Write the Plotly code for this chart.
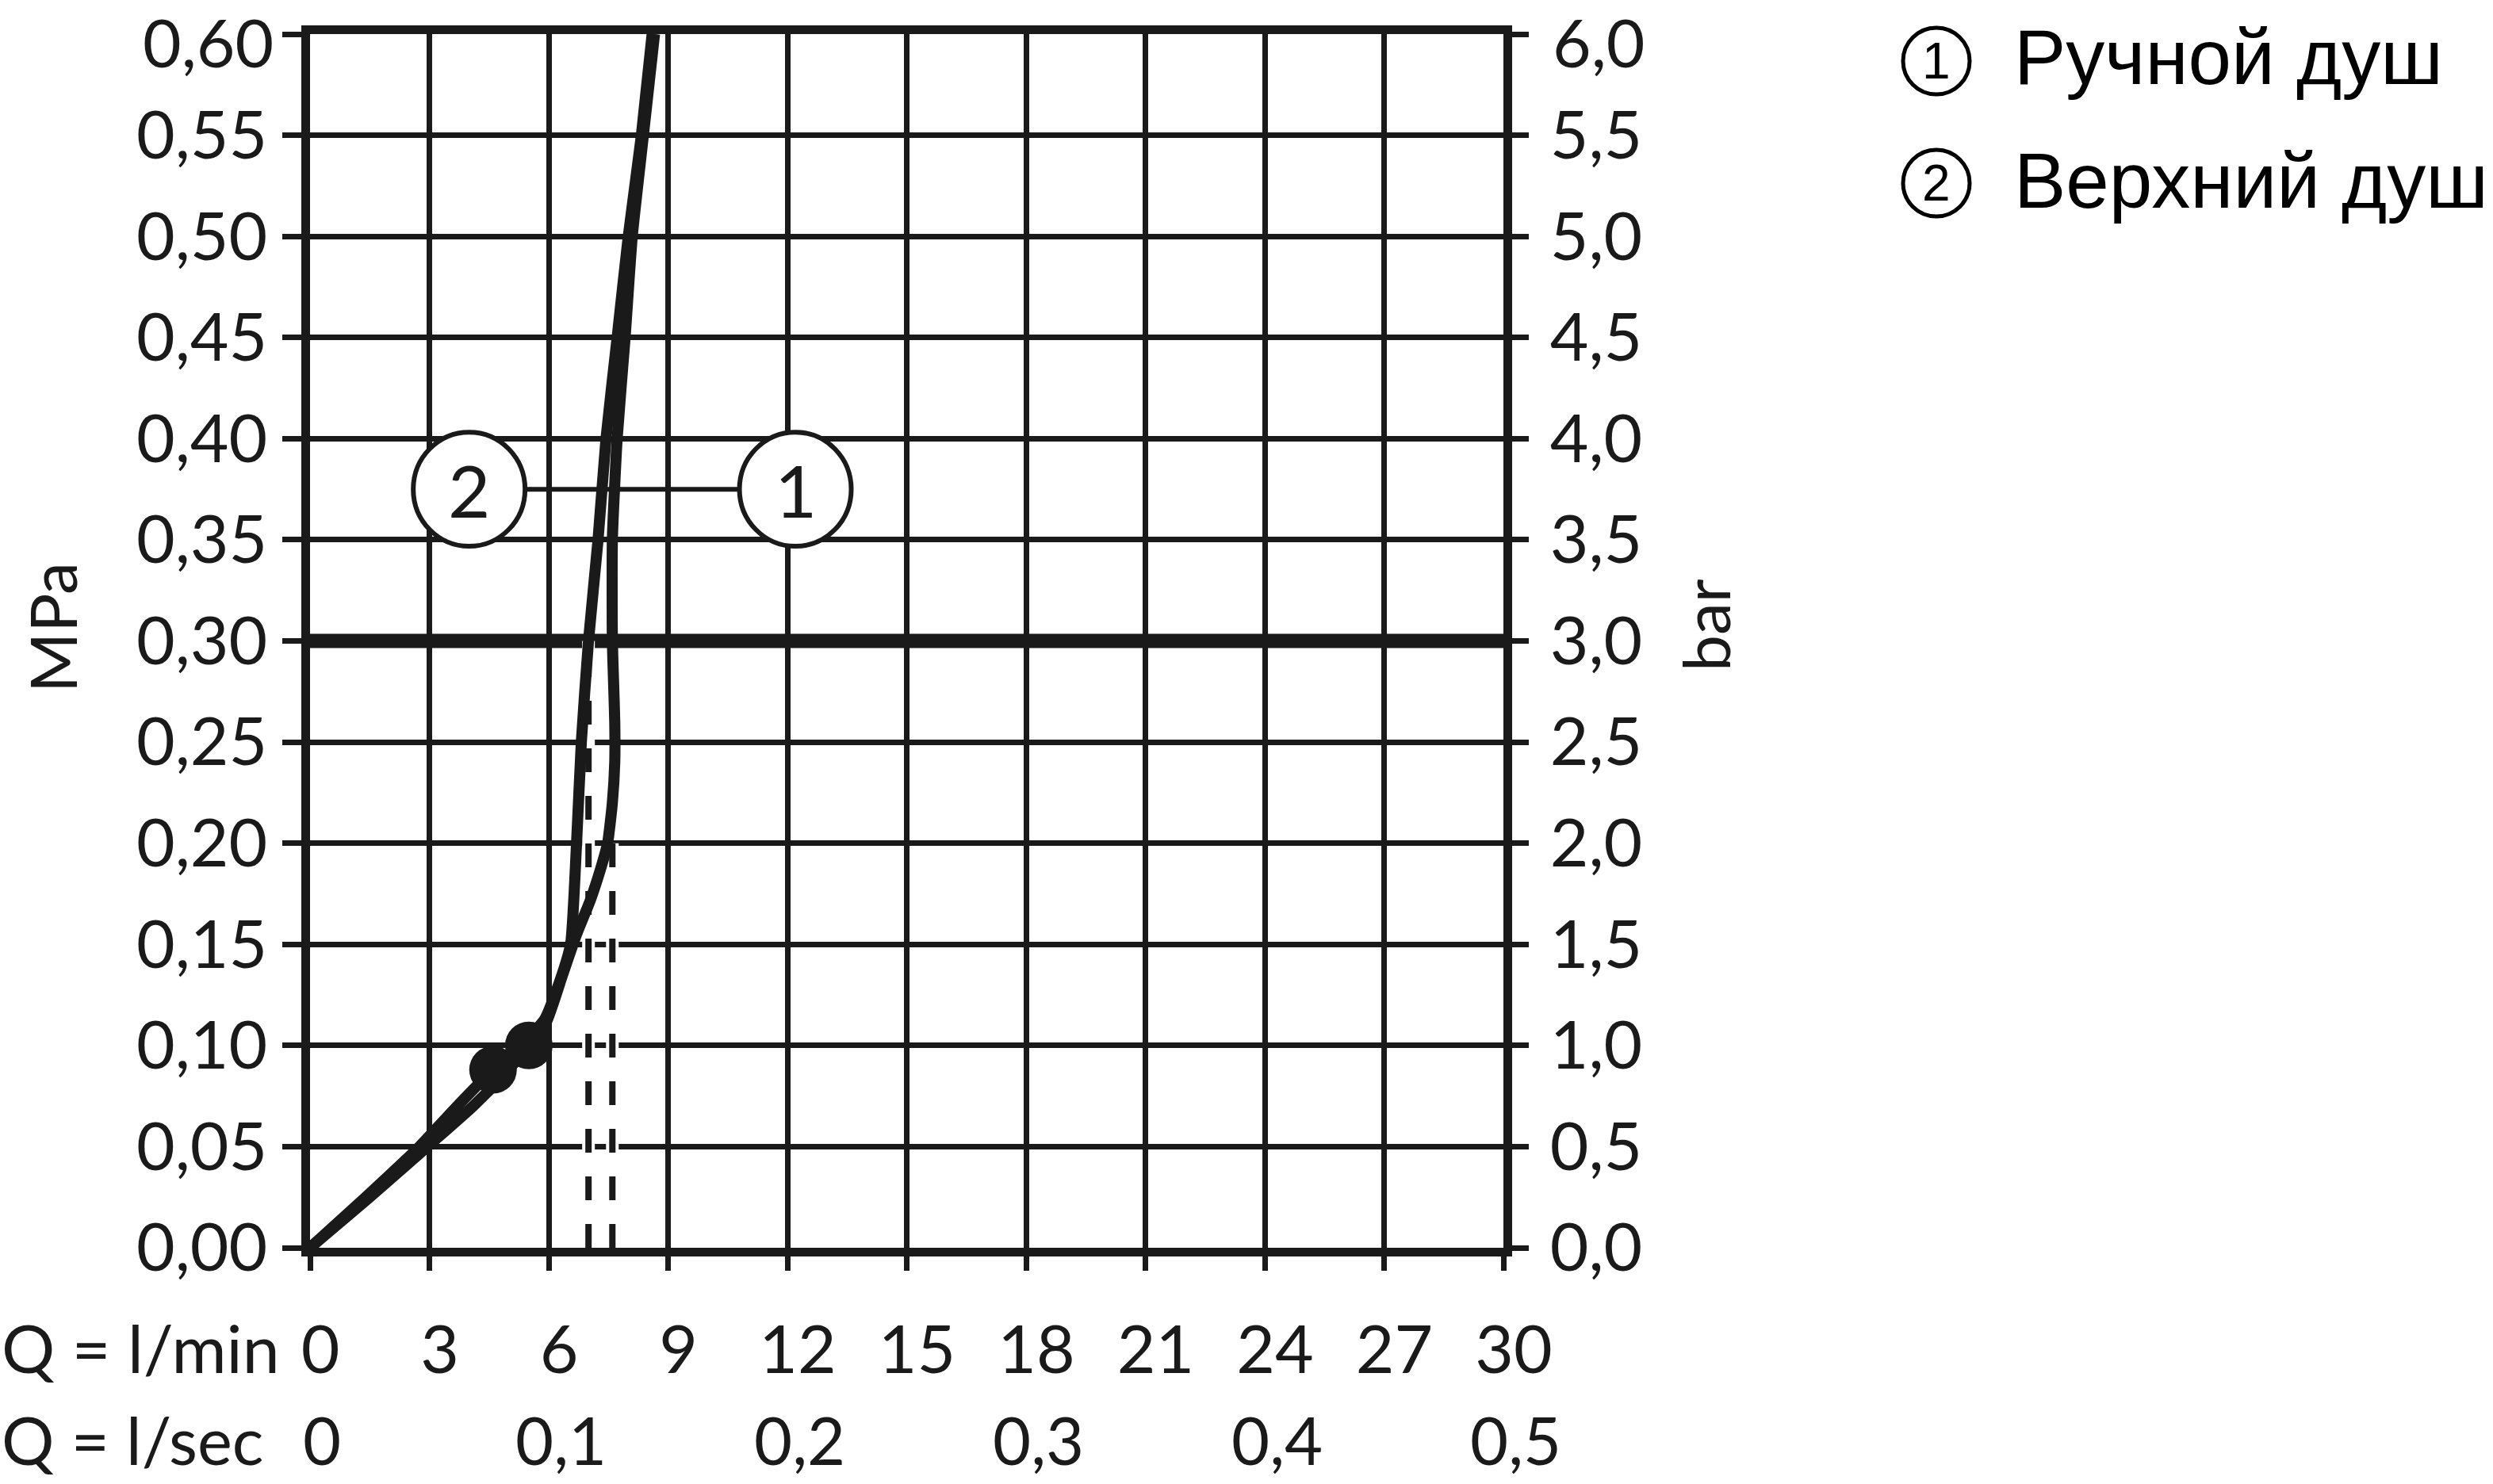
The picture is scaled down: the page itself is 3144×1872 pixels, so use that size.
import plotly.graph_objects as go

# ---------------- data ----------------
Q_LMIN_TICKS = [0, 3, 6, 9, 12, 15, 18, 21, 24, 27, 30]
Q_LSEC_TICKS = [0, 0.1, 0.2, 0.3, 0.4, 0.5]
Q_LSEC_TEXT = ["0", "0,1", "0,2", "0,3", "0,4", "0,5"]
MPA_TICKS = [round(i * 0.05, 2) for i in range(13)]
BAR_TICKS = [round(i * 0.5, 1) for i in range(13)]

# curve 1 – hand shower (Ручной душ)
C1_Q = [0, 1.5, 2.95, 4.1, 4.85, 5.5, 5.95, 6.35, 6.7, 7.05, 7.3, 7.48, 7.6,
        7.66, 7.66, 7.63, 7.6, 7.6, 7.72, 7.92, 8.1, 8.38, 8.66]
C1_P = [0, 0.025, 0.05, 0.07, 0.085, 0.10, 0.112, 0.135, 0.155, 0.172, 0.187, 0.20, 0.22,
        0.24, 0.26, 0.28, 0.30, 0.35, 0.40, 0.45, 0.50, 0.55, 0.60]
C1_DOT = (5.5, 0.10)

# curve 2 – overhead shower (Верхний душ)
C2_Q = [0, 1.4, 2.75, 3.7, 4.6, 5.3, 5.9, 6.3, 6.55, 6.7, 6.82, 7.0, 7.24, 7.44,
        7.72, 8.0, 8.33, 8.6]
C2_P = [0, 0.025, 0.05, 0.07, 0.088, 0.10, 0.113, 0.133, 0.15, 0.20, 0.25, 0.30, 0.35,
        0.40, 0.45, 0.50, 0.55, 0.60]
C2_DOT = (4.6, 0.088)

# dashed reading lines (flow at given pressure)
DASH_Q = [7.0, 7.6]
DASH_P = [0.30, 0.20]

REF_PRESSURE = 0.30

# curve label bubbles (x in l/min, y in MPa)
LABELS = ["2", "1"]
LABEL_Q = [4.0, 12.2]
LABEL_P = 0.375

LEGEND = ["Ручной душ", "Верхний душ"]
LEGEND_NUM = ["1", "2"]

# ---------------- figure ----------------
FONT = "Lato"
BLACK = "#1a1a1a"
W, H = 3144, 1872
L, R, T, B = 391, 3144 - 1896, 43, 1872 - 1574
PW, PH = W - L - R, H - T - B


def px_x(px):
    return (px - L) / PW


def px_y(py):
    return (H - B - py) / PH


def comma(v, nd):
    return f"{v:.{nd}f}".replace(".", ",")


# top tick labels are placed as annotations (kept inside the page)
MPA_TEXT = [comma(v, 2) for v in MPA_TICKS[:-1]] + [""]
BAR_TEXT = [comma(v, 1) for v in BAR_TICKS[:-1]] + [""]

fig = go.Figure()

# thick reference line at 0.30 MPa
fig.add_trace(go.Scatter(x=[Q_LMIN_TICKS[0], Q_LMIN_TICKS[-1]], y=[REF_PRESSURE, REF_PRESSURE],
                         mode="lines", line=dict(color=BLACK, width=18),
                         hoverinfo="skip", showlegend=False, cliponaxis=False))

# dashed lines with white halo
for q, p in zip(DASH_Q, DASH_P):
    fig.add_trace(go.Scatter(x=[q, q], y=[0, p], mode="lines",
                             line=dict(color="white", width=16),
                             hoverinfo="skip", showlegend=False))
    fig.add_trace(go.Scatter(x=[q, q], y=[0, p], mode="lines",
                             line=dict(color=BLACK, width=8, dash="30px,30px"),
                             hoverinfo="skip", showlegend=False))

for qs, ps in ((C2_Q, C2_P), (C1_Q, C1_P)):
    fig.add_trace(go.Scatter(x=qs, y=ps, mode="lines",
                             line=dict(color=BLACK, width=14, shape="spline", smoothing=0.5),
                             hoverinfo="skip", showlegend=False))

fig.add_trace(go.Scatter(x=[C2_DOT[0], C1_DOT[0]], y=[C2_DOT[1], C1_DOT[1]], mode="markers",
                         marker=dict(color=BLACK, size=60, line=dict(width=0)),
                         hoverinfo="skip", showlegend=False))

# dummy trace for right axis
fig.add_trace(go.Scatter(x=[None], y=[None], yaxis="y2", mode="lines", showlegend=False,
                         hoverinfo="skip"))

shapes = []
rx, ry = 1.405, 0.0282
shapes.append(dict(type="line", xref="x", yref="y", x0=LABEL_Q[0] + rx, x1=LABEL_Q[1] - rx,
                   y0=LABEL_P, y1=LABEL_P, line=dict(color=BLACK, width=6), layer="between"))
annotations = []
for lab, q in zip(LABELS, LABEL_Q):
    shapes.append(dict(type="circle", xref="x", yref="y", x0=q - rx, x1=q + rx,
                       y0=LABEL_P - ry, y1=LABEL_P + ry, fillcolor="white",
                       line=dict(color=BLACK, width=6), layer="between"))
    annotations.append(dict(x=q, y=LABEL_P, xref="x", yref="y", text=lab, showarrow=False,
                            font=dict(family=FONT, size=92, color=BLACK),
                            xanchor="center", yanchor="middle"))

# legend (top right)
leg_cy = [77, 231]
leg_ty = [72, 228]
for num, txt, cy, ty in zip(LEGEND_NUM, LEGEND, leg_cy, leg_ty):
    shapes.append(dict(type="circle", xref="paper", yref="paper",
                       x0=px_x(2400), x1=px_x(2484), y0=px_y(cy - 42), y1=px_y(cy + 42),
                       line=dict(color="black", width=5), fillcolor="white"))
    annotations.append(dict(x=px_x(2442), y=px_y(cy), xref="paper", yref="paper", text=num,
                            showarrow=False, font=dict(family="Liberation Sans", size=64, color="black"),
                            xanchor="center", yanchor="middle"))
    annotations.append(dict(x=px_x(2538), y=px_y(ty), xref="paper", yref="paper", text=txt,
                            showarrow=False, font=dict(family="Liberation Sans", size=98, color="black"),
                            xanchor="left", yanchor="middle"))

tickfont = dict(family=FONT, size=84, color=BLACK)

# top tick labels (0,60 MPa / 6,0 bar)
annotations.append(dict(x=px_x(347), y=px_y(0), xref="paper", yref="paper",
                        text=comma(MPA_TICKS[-1], 2), showarrow=False,
                        xanchor="right", yanchor="top", font=tickfont))
annotations.append(dict(x=px_x(1956), y=px_y(0), xref="paper", yref="paper",
                        text=comma(BAR_TICKS[-1], 1), showarrow=False,
                        xanchor="left", yanchor="top", font=tickfont))

# axis titles
annotations.append(dict(x=px_x(65), y=px_y(792), xref="paper", yref="paper", text="MPa",
                        textangle=-90, showarrow=False, xanchor="center", yanchor="middle",
                        font=dict(family=FONT, size=82, color=BLACK)))
annotations.append(dict(x=px_x(2150), y=px_y(789), xref="paper", yref="paper", text="bar",
                        textangle=-90, showarrow=False, xanchor="center", yanchor="middle",
                        font=dict(family=FONT, size=82, color=BLACK)))
annotations.append(dict(x=px_x(0), y=px_y(1700), xref="paper", yref="paper", text="Q = l/min",
                        showarrow=False, xanchor="left", yanchor="middle",
                        font=dict(family=FONT, size=84, color=BLACK)))
annotations.append(dict(x=px_x(0), y=px_y(1868), xref="paper", yref="paper", text="Q = l/sec",
                        showarrow=False, xanchor="left", yanchor="bottom",
                        font=dict(family=FONT, size=83, color=BLACK)))
for v, t in zip(Q_LSEC_TICKS, Q_LSEC_TEXT):
    annotations.append(dict(x=v * 60, y=px_y(1868), xref="x", yref="paper", text=t,
                            showarrow=False, xanchor="center", yanchor="bottom", xshift=15,
                            font=dict(family=FONT, size=83, color=BLACK)))

fig.update_layout(
    width=W, height=H, autosize=False,
    margin=dict(l=L, r=R, t=T, b=B, pad=0, autoexpand=False),
    paper_bgcolor="white", plot_bgcolor="white",
    separators=",.",
    shapes=shapes, annotations=annotations,
    xaxis=dict(range=[0, 30], tickvals=Q_LMIN_TICKS, ticks="outside", ticklen=18, tickwidth=7,
               tickcolor=BLACK, showgrid=True, gridcolor=BLACK, gridwidth=7, zeroline=False,
               showline=True, linewidth=11, linecolor=BLACK, mirror=True, automargin=False,
               tickfont=tickfont, ticklabelstandoff=28, ticklabelshift=13,
               ticklabeloverflow="allow", fixedrange=True),
    yaxis=dict(range=[0, 0.6], tickvals=MPA_TICKS, ticktext=MPA_TEXT, ticks="outside",
               ticklen=24, tickwidth=7, tickcolor=BLACK, showgrid=True, gridcolor=BLACK,
               gridwidth=7, zeroline=False, showline=True, linewidth=11, linecolor=BLACK,
               mirror=True, tickfont=tickfont, ticklabelstandoff=2, automargin=False,
               ticklabeloverflow="allow", fixedrange=True),
    yaxis2=dict(range=[0, 6], tickvals=BAR_TICKS, ticktext=BAR_TEXT, overlaying="y",
                side="right", ticks="outside", ticklen=21, tickwidth=7, tickcolor=BLACK,
                showgrid=False, zeroline=False, showline=True, linewidth=11, linecolor=BLACK,
                tickfont=tickfont, ticklabelstandoff=10, automargin=False,
                ticklabeloverflow="allow", fixedrange=True),
)

fig.write_html("out.html", config={"displayModeBar": False},
               post_script="document.body.style.margin='0';document.body.style.overflow='hidden';")
